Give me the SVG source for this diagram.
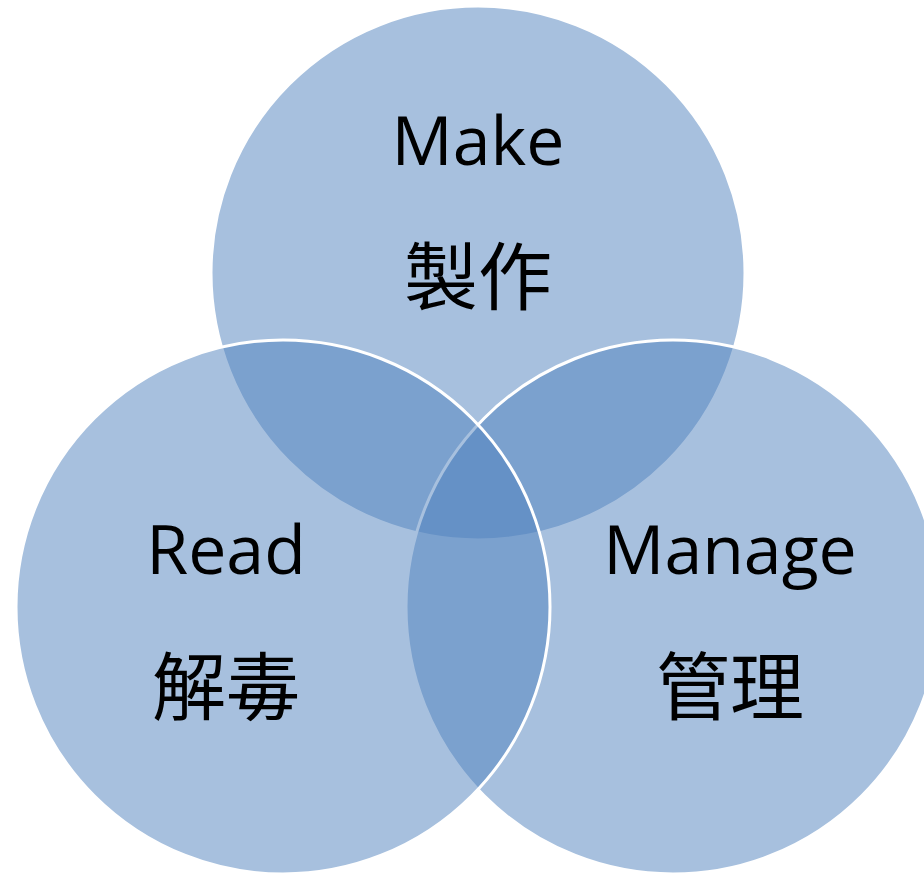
<svg xmlns="http://www.w3.org/2000/svg" width="924" height="876" viewBox="0 0 924 876">
<style>
.c{fill:#4f81bd;fill-opacity:0.5;stroke:#ffffff;stroke-width:3}
.t{font-family:"Open Sans","Noto Sans CJK TC",sans-serif;font-size:68px;fill:#000;text-anchor:middle}
.j{font-family:"Noto Sans CJK TC","Noto Sans CJK JP",sans-serif;font-size:74px;fill:#000;text-anchor:middle}
</style>
<rect width="924" height="876" fill="#ffffff"/>
<g id="make">
<circle class="c" cx="478" cy="273" r="267"/>
</g>
<g id="manage">
<circle class="c" cx="673" cy="607" r="267"/>
</g>
<g id="read">
<circle class="c" cx="283" cy="607" r="267"/>
</g>
<g id="labels">
<text class="t" x="478" y="165">Make</text>
<text class="j" x="478" y="304">製作</text>
<text class="t" x="226" y="574">Read</text>
<text class="j" x="226" y="714">解毒</text>
<text class="t" x="730" y="574">Manage</text>
<text class="j" x="730" y="714">管理</text>
</g>
<g id="connectors"></g>
</svg>
